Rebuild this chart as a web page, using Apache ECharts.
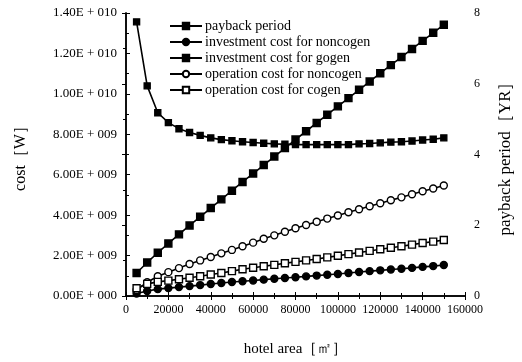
<!DOCTYPE html>
<html>
<head>
<meta charset="utf-8">
<script src="https://cdn.jsdelivr.net/npm/echarts@6/dist/echarts.min.js"></script>
<style>
  html, body { margin: 0; padding: 0; background: #fff; }
  #chart { width: 522px; height: 362px; }
</style>
</head>
<body>
<div id="chart"></div>
<script>
// Hotel floor area [m2]
const area = [5000, 10000, 15000, 20000, 25000, 30000, 35000, 40000, 45000, 50000,
  55000, 60000, 65000, 70000, 75000, 80000, 85000, 90000, 95000, 100000,
  105000, 110000, 115000, 120000, 125000, 130000, 135000, 140000, 145000, 150000];

// Payback period [YR]
const payback = [7.75, 5.94, 5.18, 4.90, 4.73, 4.62, 4.54, 4.47, 4.42, 4.39,
  4.36, 4.34, 4.32, 4.30, 4.29, 4.28, 4.28, 4.28, 4.28, 4.28,
  4.28, 4.30, 4.31, 4.33, 4.35, 4.36, 4.38, 4.41, 4.43, 4.47];

// Costs [W], in units of 1e9
const investNoncogen = [0.12, 0.25, 0.34, 0.39, 0.44, 0.49, 0.54, 0.59, 0.64, 0.69,
  0.73, 0.77, 0.81, 0.85, 0.89, 0.93, 0.97, 1.01, 1.05, 1.09,
  1.14, 1.19, 1.23, 1.27, 1.31, 1.35, 1.39, 1.44, 1.48, 1.53];
const investCogen = [1.14, 1.66, 2.14, 2.60, 3.05, 3.49, 3.92, 4.35, 4.78, 5.21,
  5.64, 6.06, 6.48, 6.90, 7.32, 7.74, 8.15, 8.56, 8.97, 9.38,
  9.79, 10.20, 10.61, 11.02, 11.42, 11.82, 12.22, 12.62, 13.02, 13.42];
const operNoncogen = [0.30, 0.68, 0.98, 1.18, 1.38, 1.58, 1.76, 1.93, 2.11, 2.28,
  2.46, 2.64, 2.83, 3.00, 3.18, 3.35, 3.51, 3.67, 3.83, 3.98,
  4.14, 4.29, 4.44, 4.59, 4.74, 4.88, 5.03, 5.18, 5.32, 5.47];
const operCogen = [0.38, 0.60, 0.70, 0.76, 0.83, 0.90, 0.98, 1.06, 1.14, 1.23,
  1.32, 1.40, 1.47, 1.54, 1.62, 1.69, 1.76, 1.83, 1.91, 1.99,
  2.07, 2.15, 2.23, 2.31, 2.39, 2.46, 2.54, 2.62, 2.69, 2.77];

const COST_UNIT = 1e9;
const FONT = '"Liberation Serif", "DejaVu Serif", serif';

function pairs(vals, scale) {
  return area.map((a, i) => [a, vals[i] * scale]);
}

// Format like 1.40E + 010
function sci(v) {
  if (v === 0) return '0.00E + 000';
  const e = Math.floor(Math.log10(Math.abs(v)) + 1e-9);
  const m = v / Math.pow(10, e);
  return m.toFixed(2) + 'E + ' + String(e).padStart(3, '0');
}

const lineBase = {
  type: 'line',
  lineStyle: { color: '#000', width: 1.6 },
  itemStyle: { color: '#000', borderColor: '#000', borderWidth: 1.4 },
  emphasis: { disabled: true },
  animation: false,
  z: 3
};

const tickStyle = { color: '#000', width: 1 };

const chart = echarts.init(document.getElementById('chart'));
chart.setOption({
  backgroundColor: '#fff',
  animation: false,
  textStyle: { fontFamily: FONT, color: '#000' },
  grid: { left: 126, right: 55, top: 13, bottom: 65 },
  legend: {
    orient: 'vertical',
    left: 164,
    top: 13,
    itemWidth: 32,
    itemHeight: 8,
    itemGap: 0,
    textStyle: { fontFamily: FONT, fontSize: 14, lineHeight: 16, color: '#000', padding: [0, 0, 0, -2] },
    data: ['payback period', 'investment cost for noncogen', 'investment cost for gogen',
      'operation cost for noncogen', 'operation cost for cogen']
  },
  xAxis: [{
    type: 'value',
    min: 0, max: 160000, interval: 20000,
    name: 'hotel area［㎡］',
    nameLocation: 'middle',
    nameGap: 46,
    nameTextStyle: { fontFamily: FONT, fontSize: 15, color: '#000' },
    axisLine: { lineStyle: { color: '#000', width: 1.5 } },
    axisTick: { inside: true, length: 4, lineStyle: tickStyle },
    minorTick: { show: true, splitNumber: 2, length: 3, lineStyle: tickStyle },
    splitLine: { show: false },
    axisLabel: { fontFamily: FONT, fontSize: 12, color: '#000', margin: 8, formatter: v => String(v) }
  }, {
    type: 'value',
    position: 'top',
    min: 0, max: 160000, interval: 20000,
    axisLine: { show: true, lineStyle: { color: '#000', width: 1.5 } },
    axisTick: { inside: true, length: 4, lineStyle: tickStyle },
    minorTick: { show: true, splitNumber: 2, length: 3, lineStyle: tickStyle },
    splitLine: { show: false },
    axisLabel: { show: false }
  }],
  yAxis: [{
    type: 'value',
    min: 0, max: 1.4e10, interval: 2e9,
    name: 'cost［W］',
    nameLocation: 'middle',
    nameGap: 97,
    nameRotate: 90,
    nameTextStyle: { fontFamily: FONT, fontSize: 16, color: '#000' },
    axisLine: { show: true, lineStyle: { color: '#000', width: 1.5 } },
    axisTick: { inside: true, length: 4, lineStyle: tickStyle },
    minorTick: { show: true, splitNumber: 2, length: 3, lineStyle: tickStyle },
    splitLine: { show: false },
    axisLabel: { fontFamily: FONT, fontSize: 13, color: '#000', margin: 9, formatter: sci }
  }, {
    type: 'value',
    min: 0, max: 8, interval: 2,
    name: 'payback period［YR］',
    nameLocation: 'middle',
    nameGap: 32,
    nameRotate: 90,
    nameTextStyle: { fontFamily: FONT, fontSize: 17, color: '#000' },
    axisLine: { show: true, lineStyle: { color: '#000', width: 1.5 } },
    axisTick: { inside: true, length: 4, lineStyle: tickStyle },
    minorTick: { show: true, splitNumber: 2, length: 3, lineStyle: tickStyle },
    splitLine: { show: false },
    axisLabel: { fontFamily: FONT, fontSize: 12, color: '#000', margin: 9 }
  }],
  series: [
    Object.assign({}, lineBase, {
      name: 'payback period', yAxisIndex: 1,
      symbol: 'rect', symbolSize: 6,
      data: pairs(payback, 1)
    }),
    Object.assign({}, lineBase, {
      name: 'investment cost for noncogen', yAxisIndex: 0,
      symbol: 'circle', symbolSize: 7,
      data: pairs(investNoncogen, COST_UNIT)
    }),
    Object.assign({}, lineBase, {
      name: 'investment cost for gogen', yAxisIndex: 0,
      symbol: 'rect', symbolSize: 7,
      data: pairs(investCogen, COST_UNIT)
    }),
    Object.assign({}, lineBase, {
      name: 'operation cost for noncogen', yAxisIndex: 0,
      symbol: 'circle', symbolSize: 7,
      itemStyle: { color: '#fff', borderColor: '#000', borderWidth: 1.4 },
      data: pairs(operNoncogen, COST_UNIT)
    }),
    Object.assign({}, lineBase, {
      name: 'operation cost for cogen', yAxisIndex: 0,
      symbol: 'rect', symbolSize: 7,
      itemStyle: { color: '#fff', borderColor: '#000', borderWidth: 1.4 },
      data: pairs(operCogen, COST_UNIT)
    })
  ]
});
</script>
</body>
</html>
